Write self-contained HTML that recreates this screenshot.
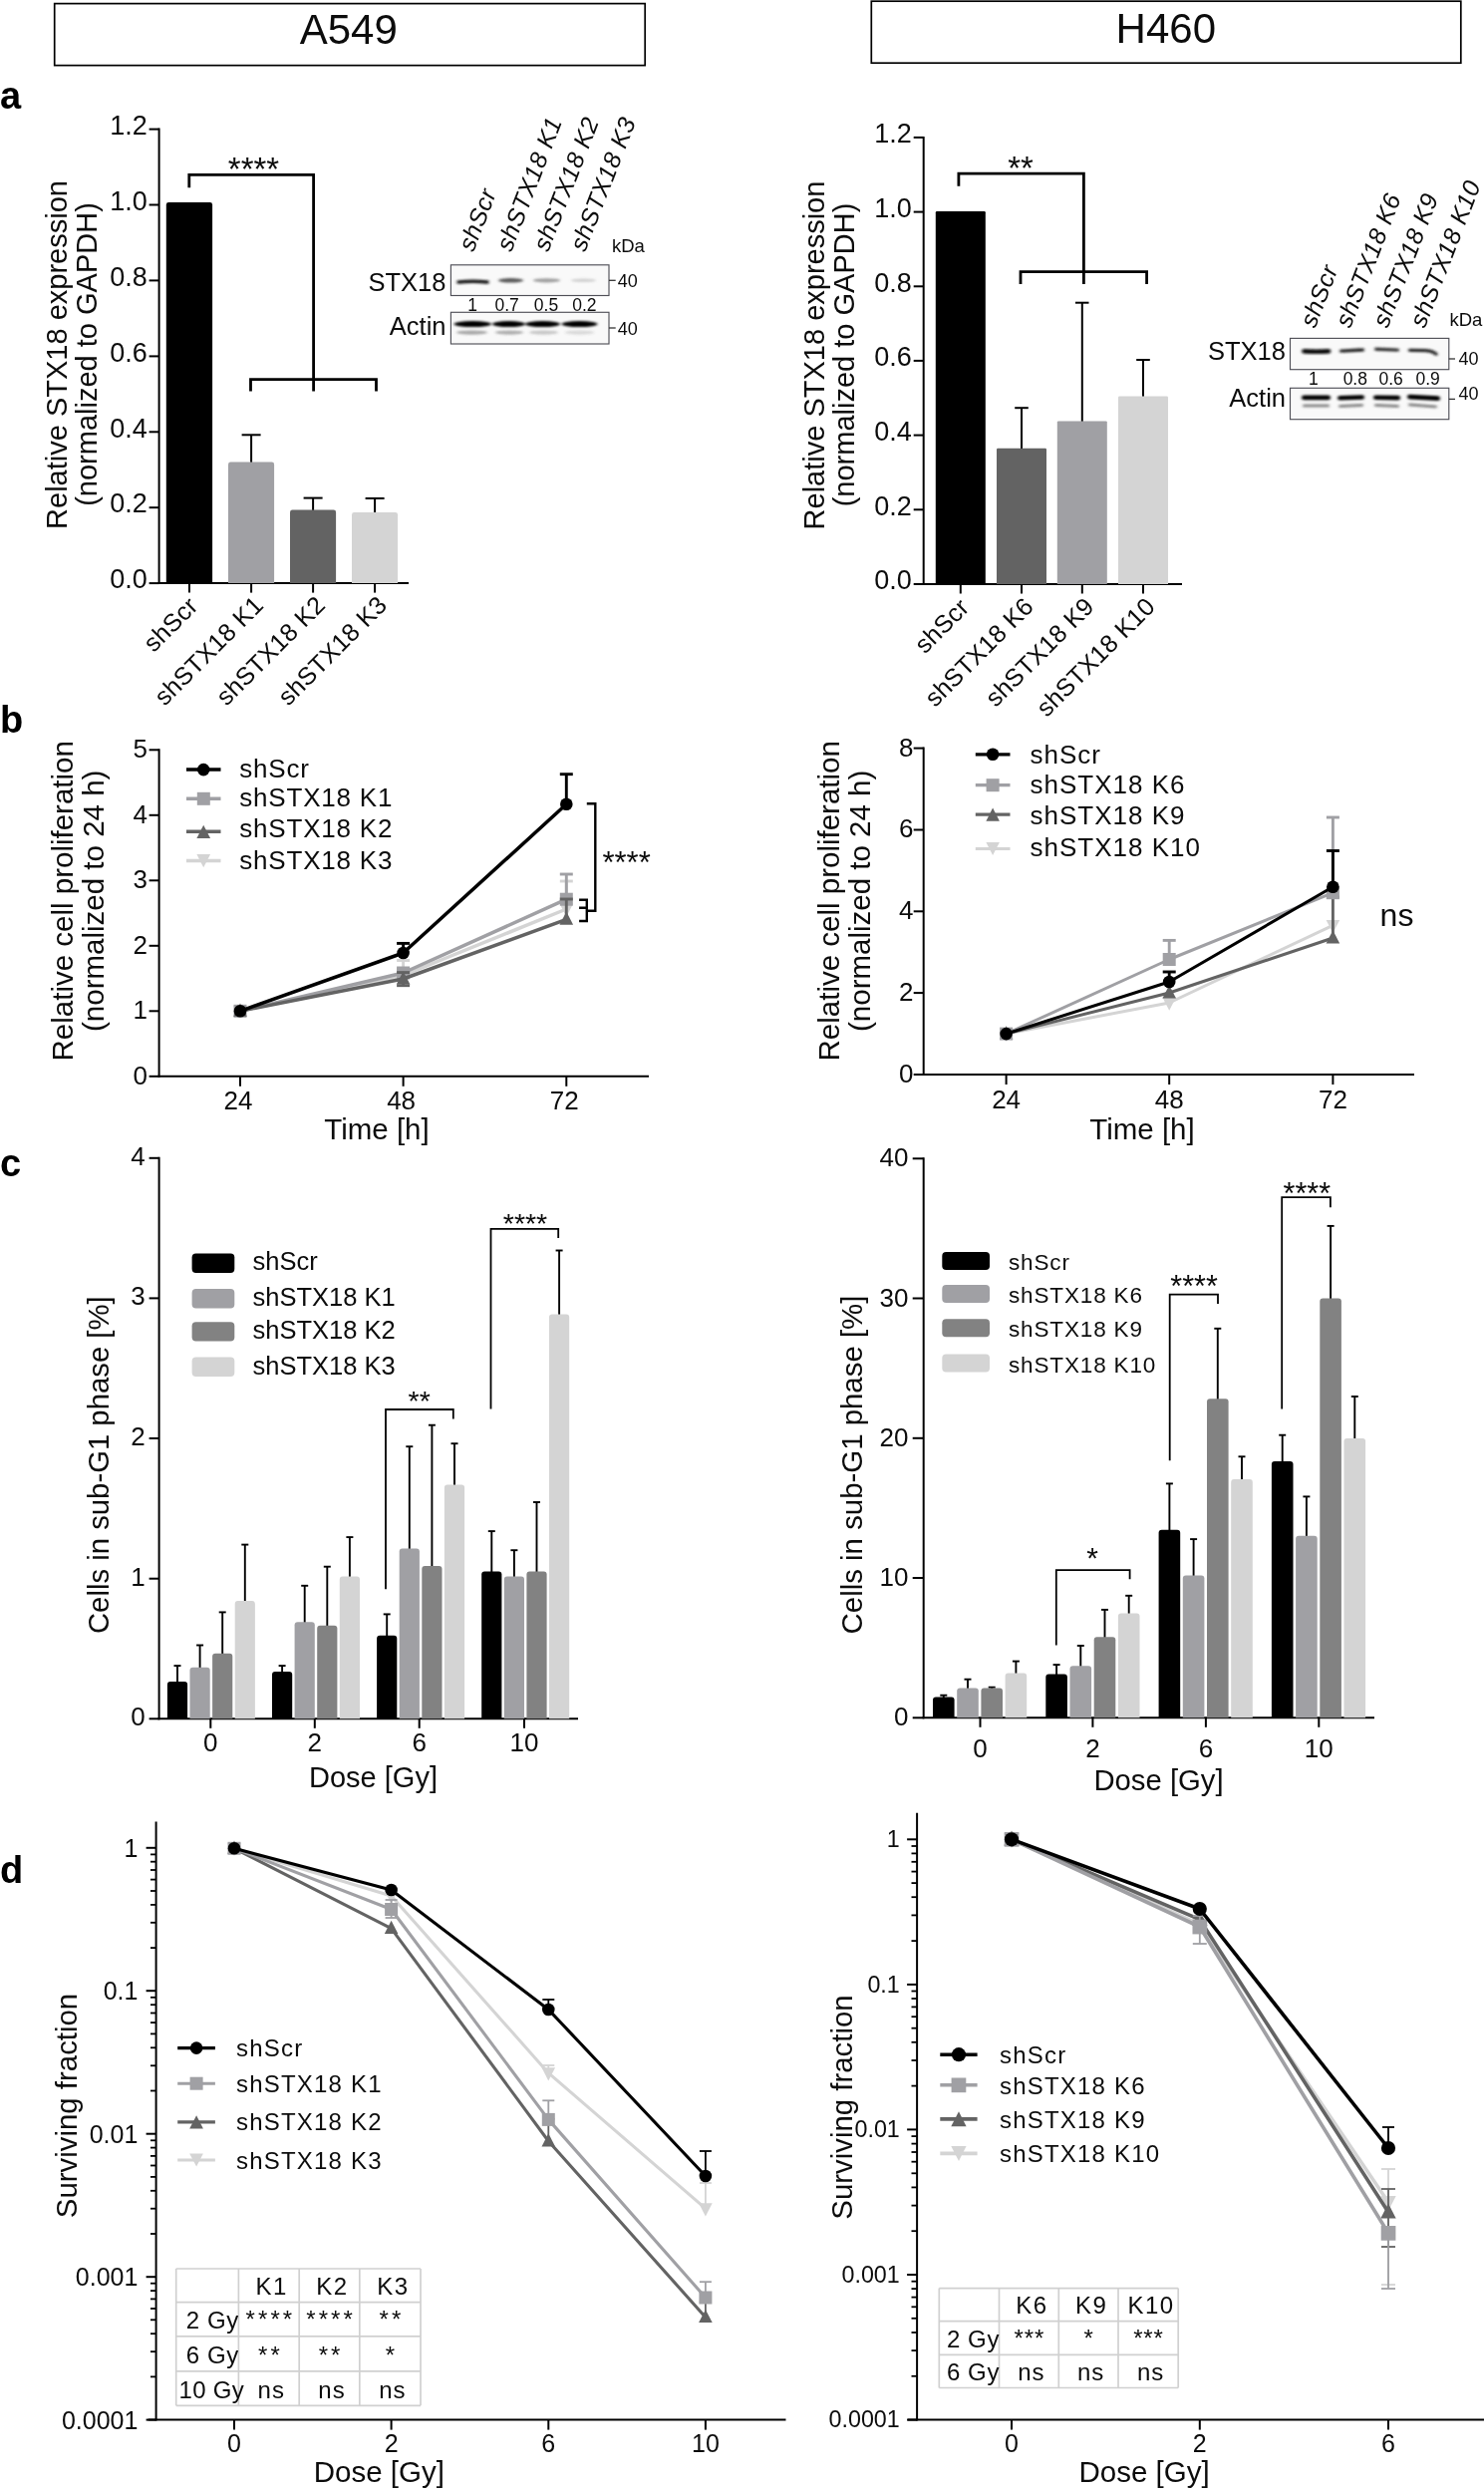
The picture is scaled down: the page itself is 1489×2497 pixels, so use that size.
<!DOCTYPE html>
<html><head><meta charset="utf-8"><title>Figure</title>
<style>
html,body{margin:0;padding:0;background:#fff;}
svg{display:block;will-change:transform;font-family:"Liberation Sans",sans-serif;fill:#0c0c0c;}
</style></head><body>
<svg width="1489" height="2497" viewBox="0 0 1489 2497">
<defs>
<filter id="b1" x="-10%" y="-60%" width="120%" height="220%"><feGaussianBlur stdDeviation="1.5 1.0"/></filter>
<filter id="b2" x="-20%" y="-100%" width="140%" height="300%"><feGaussianBlur stdDeviation="1.2 0.8"/></filter>
</defs>
<rect width="1489" height="2497" fill="#fff"/>
<rect x="54.7" y="3.6" width="592.5" height="62.0" fill="#fff" stroke="#000" stroke-width="1.7"/>
<text x="349.8" y="44.3" font-size="42" text-anchor="middle">A549</text>
<rect x="874.3" y="1.2" width="591.5" height="62.0" fill="#fff" stroke="#000" stroke-width="1.7"/>
<text x="1169.8" y="42.7" font-size="42" text-anchor="middle">H460</text>
<text x="0.0" y="109.3" font-size="38" font-weight="bold" fill="#000">a</text>
<text x="0.0" y="734.5" font-size="38" font-weight="bold" fill="#000">b</text>
<text x="0.0" y="1180.0" font-size="38" font-weight="bold" fill="#000">c</text>
<text x="0.0" y="1888.5" font-size="38" font-weight="bold" fill="#000">d</text>
<line x1="159.6" y1="128.6" x2="159.6" y2="586.1" stroke="#000" stroke-width="2.0"/>
<line x1="149.6" y1="129.6" x2="159.6" y2="129.6" stroke="#000" stroke-width="2"/>
<text x="147.8" y="134.8" font-size="27" text-anchor="end">1.2</text>
<line x1="149.6" y1="205.5" x2="159.6" y2="205.5" stroke="#000" stroke-width="2"/>
<text x="147.8" y="210.7" font-size="27" text-anchor="end">1.0</text>
<line x1="149.6" y1="281.4" x2="159.6" y2="281.4" stroke="#000" stroke-width="2"/>
<text x="147.8" y="286.6" font-size="27" text-anchor="end">0.8</text>
<line x1="149.6" y1="357.4" x2="159.6" y2="357.4" stroke="#000" stroke-width="2"/>
<text x="147.8" y="362.6" font-size="27" text-anchor="end">0.6</text>
<line x1="149.6" y1="433.3" x2="159.6" y2="433.3" stroke="#000" stroke-width="2"/>
<text x="147.8" y="438.5" font-size="27" text-anchor="end">0.4</text>
<line x1="149.6" y1="509.2" x2="159.6" y2="509.2" stroke="#000" stroke-width="2"/>
<text x="147.8" y="514.4" font-size="27" text-anchor="end">0.2</text>
<line x1="149.6" y1="585.1" x2="159.6" y2="585.1" stroke="#000" stroke-width="2"/>
<text x="147.8" y="590.3" font-size="27" text-anchor="end">0.0</text>
<line x1="158.6" y1="585.1" x2="410.0" y2="585.1" stroke="#000" stroke-width="2.0"/>
<text x="66.5" y="356.0" font-size="29" text-anchor="middle" transform="rotate(-90 66.5 356.0)">Relative STX18 expression</text>
<text x="96.7" y="355.5" font-size="29" text-anchor="middle" transform="rotate(-90 96.7 355.5)">(normalized to GAPDH)</text>
<path d="M166.8 585.1V205.4Q166.8 203.0 169.2 203.0H210.7Q213.1 203.0 213.1 205.4V585.1Z" fill="#000"/>
<line x1="252.1" y1="465.5" x2="252.1" y2="436.3" stroke="#000" stroke-width="2"/>
<line x1="242.6" y1="436.3" x2="261.6" y2="436.3" stroke="#000" stroke-width="2"/>
<path d="M229.0 585.1V465.9Q229.0 463.5 231.4 463.5H272.7Q275.1 463.5 275.1 465.9V585.1Z" fill="#a0a0a4"/>
<line x1="314.1" y1="513.6" x2="314.1" y2="499.6" stroke="#000" stroke-width="2"/>
<line x1="304.6" y1="499.6" x2="323.6" y2="499.6" stroke="#000" stroke-width="2"/>
<path d="M291.0 585.1V514.0Q291.0 511.6 293.4 511.6H334.7Q337.1 511.6 337.1 514.0V585.1Z" fill="#636363"/>
<line x1="376.1" y1="516.0" x2="376.1" y2="500.0" stroke="#000" stroke-width="2"/>
<line x1="366.6" y1="500.0" x2="385.6" y2="500.0" stroke="#000" stroke-width="2"/>
<path d="M353.0 585.1V516.4Q353.0 514.0 355.4 514.0H396.7Q399.1 514.0 399.1 516.4V585.1Z" fill="#d4d4d4"/>
<line x1="190.0" y1="585.1" x2="190.0" y2="594.6" stroke="#000" stroke-width="2"/>
<text x="200.0" y="609.6" font-size="25" text-anchor="end" transform="rotate(-45 200.0 609.6)" letter-spacing="0.15">shScr</text>
<line x1="252.1" y1="585.1" x2="252.1" y2="594.6" stroke="#000" stroke-width="2"/>
<text x="265.6" y="608.6" font-size="25" text-anchor="end" transform="rotate(-45 265.6 608.6)" letter-spacing="0.15">shSTX18 K1</text>
<line x1="314.1" y1="585.1" x2="314.1" y2="594.6" stroke="#000" stroke-width="2"/>
<text x="327.6" y="608.6" font-size="25" text-anchor="end" transform="rotate(-45 327.6 608.6)" letter-spacing="0.15">shSTX18 K2</text>
<line x1="376.1" y1="585.1" x2="376.1" y2="594.6" stroke="#000" stroke-width="2"/>
<text x="389.6" y="608.6" font-size="25" text-anchor="end" transform="rotate(-45 389.6 608.6)" letter-spacing="0.15">shSTX18 K3</text>
<path d="M189.8 188.3V175.3H314.6V392.5" fill="none" stroke="#000" stroke-width="2.8" stroke-linejoin="miter"/>
<path d="M251.5 392.5V380.6H377.5V392.5" fill="none" stroke="#000" stroke-width="2.8" stroke-linejoin="miter"/>
<text x="254.5" y="180.5" font-size="33" text-anchor="middle">****</text>
<line x1="926.7" y1="136.9" x2="926.7" y2="587.0" stroke="#000" stroke-width="2.0"/>
<line x1="916.7" y1="137.9" x2="926.7" y2="137.9" stroke="#000" stroke-width="2"/>
<text x="914.9" y="143.1" font-size="27" text-anchor="end">1.2</text>
<line x1="916.7" y1="212.6" x2="926.7" y2="212.6" stroke="#000" stroke-width="2"/>
<text x="914.9" y="217.8" font-size="27" text-anchor="end">1.0</text>
<line x1="916.7" y1="287.3" x2="926.7" y2="287.3" stroke="#000" stroke-width="2"/>
<text x="914.9" y="292.5" font-size="27" text-anchor="end">0.8</text>
<line x1="916.7" y1="361.9" x2="926.7" y2="361.9" stroke="#000" stroke-width="2"/>
<text x="914.9" y="367.1" font-size="27" text-anchor="end">0.6</text>
<line x1="916.7" y1="436.6" x2="926.7" y2="436.6" stroke="#000" stroke-width="2"/>
<text x="914.9" y="441.8" font-size="27" text-anchor="end">0.4</text>
<line x1="916.7" y1="511.3" x2="926.7" y2="511.3" stroke="#000" stroke-width="2"/>
<text x="914.9" y="516.5" font-size="27" text-anchor="end">0.2</text>
<line x1="916.7" y1="586.0" x2="926.7" y2="586.0" stroke="#000" stroke-width="2"/>
<text x="914.9" y="591.2" font-size="27" text-anchor="end">0.0</text>
<line x1="925.7" y1="586.0" x2="1186.0" y2="586.0" stroke="#000" stroke-width="2.0"/>
<text x="826.5" y="356.5" font-size="29" text-anchor="middle" transform="rotate(-90 826.5 356.5)">Relative STX18 expression</text>
<text x="856.5" y="356.0" font-size="29" text-anchor="middle" transform="rotate(-90 856.5 356.0)">(normalized to GAPDH)</text>
<path d="M938.8 586.0V213.2Q938.8 212.0 940.0 212.0H987.6Q988.8 212.0 988.8 213.2V586.0Z" fill="#000"/>
<line x1="1025.0" y1="451.7" x2="1025.0" y2="409.2" stroke="#000" stroke-width="2"/>
<line x1="1018.2" y1="409.2" x2="1031.8" y2="409.2" stroke="#000" stroke-width="2"/>
<path d="M1000.0 586.0V450.9Q1000.0 449.7 1001.2 449.7H1048.8Q1050.0 449.7 1050.0 450.9V586.0Z" fill="#636363"/>
<line x1="1085.8" y1="424.4" x2="1085.8" y2="303.7" stroke="#000" stroke-width="2"/>
<line x1="1079.0" y1="303.7" x2="1092.5" y2="303.7" stroke="#000" stroke-width="2"/>
<path d="M1060.8 586.0V423.6Q1060.8 422.4 1062.0 422.4H1109.6Q1110.8 422.4 1110.8 423.6V586.0Z" fill="#a0a0a4"/>
<line x1="1147.0" y1="399.5" x2="1147.0" y2="361.0" stroke="#000" stroke-width="2"/>
<line x1="1140.2" y1="361.0" x2="1153.8" y2="361.0" stroke="#000" stroke-width="2"/>
<path d="M1122.0 586.0V398.7Q1122.0 397.5 1123.2 397.5H1170.8Q1172.0 397.5 1172.0 398.7V586.0Z" fill="#d4d4d4"/>
<line x1="963.8" y1="586.0" x2="963.8" y2="595.5" stroke="#000" stroke-width="2"/>
<text x="973.8" y="611.0" font-size="25" text-anchor="end" transform="rotate(-45 973.8 611.0)" letter-spacing="0.15">shScr</text>
<line x1="1025.0" y1="586.0" x2="1025.0" y2="595.5" stroke="#000" stroke-width="2"/>
<text x="1038.5" y="610.0" font-size="25" text-anchor="end" transform="rotate(-45 1038.5 610.0)" letter-spacing="0.15">shSTX18 K6</text>
<line x1="1085.8" y1="586.0" x2="1085.8" y2="595.5" stroke="#000" stroke-width="2"/>
<text x="1099.3" y="610.0" font-size="25" text-anchor="end" transform="rotate(-45 1099.3 610.0)" letter-spacing="0.15">shSTX18 K9</text>
<line x1="1147.0" y1="586.0" x2="1147.0" y2="595.5" stroke="#000" stroke-width="2"/>
<text x="1160.5" y="610.0" font-size="25" text-anchor="end" transform="rotate(-45 1160.5 610.0)" letter-spacing="0.15">shSTX18 K10</text>
<path d="M961.9 186.7V174.2H1087.4V285" fill="none" stroke="#000" stroke-width="2.8" stroke-linejoin="miter"/>
<path d="M1024 285V272.6H1150.6V285" fill="none" stroke="#000" stroke-width="2.8" stroke-linejoin="miter"/>
<text x="1024.0" y="179.5" font-size="33" text-anchor="middle">**</text>
<clipPath id="cA1"><rect x="452.4" y="265.8" width="158.6" height="30.7"/></clipPath>
<rect x="452.4" y="265.8" width="158.6" height="30.7" fill="#f9f9f9" stroke="#505058" stroke-width="1.15"/>
<g clip-path="url(#cA1)"><g filter="url(#b1)">
<path d="M460.0 283.0Q474.5 281.4 489.0 283.0" fill="none" stroke="#151515" stroke-width="3.4" stroke-linecap="round" opacity="1"/>
<ellipse cx="512.5" cy="281.3" rx="12.5" ry="2.30" fill="#333" opacity="0.8"/>
<ellipse cx="548.5" cy="281.3" rx="13.5" ry="2.10" fill="#555" opacity="0.55"/>
<ellipse cx="585.5" cy="281.3" rx="12.5" ry="1.80" fill="#777" opacity="0.3"/>
</g></g>
<clipPath id="cA2"><rect x="452.4" y="313.3" width="158.6" height="31.7"/></clipPath>
<rect x="452.4" y="313.3" width="158.6" height="31.7" fill="#f9f9f9" stroke="#505058" stroke-width="1.15"/>
<g clip-path="url(#cA2)"><g filter="url(#b1)">
<ellipse cx="474.2" cy="325.1" rx="18.8" ry="3.00" fill="#050505" opacity="1"/>
<ellipse cx="510.5" cy="325.1" rx="16.5" ry="3.00" fill="#050505" opacity="1"/>
<ellipse cx="544.5" cy="325.1" rx="17.5" ry="3.00" fill="#050505" opacity="1"/>
<ellipse cx="581.5" cy="325.1" rx="18.0" ry="3.00" fill="#050505" opacity="1"/>
<ellipse cx="473.5" cy="333.6" rx="15.5" ry="2.10" fill="#555" opacity="0.5"/>
<ellipse cx="511.0" cy="333.6" rx="14.0" ry="2.10" fill="#555" opacity="0.45"/>
<ellipse cx="545.5" cy="333.6" rx="14.5" ry="2.10" fill="#555" opacity="0.3"/>
<ellipse cx="581.5" cy="333.6" rx="14.5" ry="2.10" fill="#555" opacity="0.2"/>
</g></g>
<text x="447.5" y="291.6" font-size="25.5" text-anchor="end">STX18</text>
<text x="447.5" y="335.5" font-size="25.5" text-anchor="end">Actin</text>
<text x="474.2" y="311.6" font-size="17.5" text-anchor="middle">1</text>
<text x="508.6" y="311.6" font-size="17.5" text-anchor="middle">0.7</text>
<text x="548.0" y="311.6" font-size="17.5" text-anchor="middle">0.5</text>
<text x="586.4" y="311.6" font-size="17.5" text-anchor="middle">0.2</text>
<text x="614.0" y="252.6" font-size="18.5">kDa</text>
<line x1="611.0" y1="281.3" x2="617.7" y2="281.3" stroke="#333" stroke-width="1.3"/>
<text x="619.8" y="288.3" font-size="18">40</text>
<line x1="611.0" y1="329.0" x2="617.7" y2="329.0" stroke="#333" stroke-width="1.3"/>
<text x="619.8" y="336.0" font-size="18">40</text>
<text x="475.0" y="253.5" font-size="24.5" transform="rotate(-68.7 475.0 253.5)" letter-spacing="0.4" font-style="italic">shScr</text>
<text x="513.0" y="253.5" font-size="24.5" transform="rotate(-68.7 513.0 253.5)" letter-spacing="0.4" font-style="italic">shSTX18 K1</text>
<text x="550.0" y="253.5" font-size="24.5" transform="rotate(-68.7 550.0 253.5)" letter-spacing="0.4" font-style="italic">shSTX18 K2</text>
<text x="587.0" y="253.5" font-size="24.5" transform="rotate(-68.7 587.0 253.5)" letter-spacing="0.4" font-style="italic">shSTX18 K3</text>
<clipPath id="cH1"><rect x="1294.5" y="339.4" width="159.3" height="31.3"/></clipPath>
<rect x="1294.5" y="339.4" width="159.3" height="31.3" fill="#f9f9f9" stroke="#505058" stroke-width="1.15"/>
<g clip-path="url(#cH1)"><g filter="url(#b1)">
<path d="M1308.5 352.4Q1320.8 353.2 1333.0 352.4" fill="none" stroke="#0a0a0a" stroke-width="4.6" stroke-linecap="round" opacity="1"/>
<rect x="1344.0" y="349.9" width="25.0" height="3.4" rx="1.7" fill="#1a1a1a" opacity="0.95" transform="rotate(-3 1356.5 351.6)"/>
<rect x="1379.0" y="349.0" width="25.0" height="3.4" rx="1.7" fill="#222" opacity="0.9" transform="rotate(2 1391.5 350.7)"/>
<path d="M1414.5 351.3L1431 351.6Q1437.5 352.2 1441 355.2" fill="none" stroke="#1a1a1a" stroke-width="3.3" stroke-linecap="round" opacity="0.95"/>
</g></g>
<clipPath id="cH2"><rect x="1294.5" y="389.3" width="159.3" height="31.4"/></clipPath>
<rect x="1294.5" y="389.3" width="159.3" height="31.4" fill="#f9f9f9" stroke="#505058" stroke-width="1.15"/>
<g clip-path="url(#cH2)"><g filter="url(#b1)">
<rect x="1306.0" y="396.6" width="29.0" height="4.6" rx="2.3" fill="#050505" opacity="1"/>
<rect x="1342.0" y="396.6" width="27.0" height="4.6" rx="2.3" fill="#050505" opacity="1" transform="rotate(-2 1355.5 398.9)"/>
<rect x="1378.0" y="396.6" width="27.0" height="4.6" rx="2.3" fill="#050505" opacity="1" transform="rotate(1 1391.5 398.9)"/>
<rect x="1412.0" y="396.6" width="33.0" height="4.6" rx="2.3" fill="#050505" opacity="1" transform="rotate(3 1428.5 398.9)"/>
<rect x="1307.0" y="405.5" width="27.0" height="3.0" rx="1.5" fill="#444" opacity="0.62"/>
<rect x="1343.0" y="405.5" width="25.0" height="3.0" rx="1.5" fill="#444" opacity="0.62" transform="rotate(-2 1355.5 407.0)"/>
<rect x="1379.0" y="405.5" width="25.0" height="3.0" rx="1.5" fill="#444" opacity="0.62" transform="rotate(2 1391.5 407.0)"/>
<rect x="1413.0" y="405.5" width="29.0" height="3.0" rx="1.5" fill="#444" opacity="0.62" transform="rotate(4 1427.5 407.0)"/>
</g></g>
<text x="1290.0" y="361.0" font-size="25.5" text-anchor="end">STX18</text>
<text x="1290.0" y="407.5" font-size="25.5" text-anchor="end">Actin</text>
<text x="1317.8" y="385.9" font-size="17.5" text-anchor="middle">1</text>
<text x="1359.8" y="385.9" font-size="17.5" text-anchor="middle">0.8</text>
<text x="1395.6" y="385.9" font-size="17.5" text-anchor="middle">0.6</text>
<text x="1432.6" y="385.9" font-size="17.5" text-anchor="middle">0.9</text>
<text x="1454.5" y="326.7" font-size="18.5">kDa</text>
<line x1="1453.8" y1="360.0" x2="1460.0" y2="360.0" stroke="#333" stroke-width="1.3"/>
<text x="1463.5" y="366.0" font-size="18">40</text>
<line x1="1453.8" y1="400.4" x2="1460.0" y2="400.4" stroke="#333" stroke-width="1.3"/>
<text x="1463.5" y="401.0" font-size="18">40</text>
<text x="1319.4" y="330.0" font-size="24.5" transform="rotate(-68.7 1319.4 330.0)" letter-spacing="0.4" font-style="italic">shScr</text>
<text x="1354.8" y="330.0" font-size="24.5" transform="rotate(-68.7 1354.8 330.0)" letter-spacing="0.4" font-style="italic">shSTX18 K6</text>
<text x="1392.2" y="330.0" font-size="24.5" transform="rotate(-68.7 1392.2 330.0)" letter-spacing="0.4" font-style="italic">shSTX18 K9</text>
<text x="1429.6" y="330.0" font-size="24.5" transform="rotate(-68.7 1429.6 330.0)" letter-spacing="0.4" font-style="italic">shSTX18 K10</text>
<line x1="159.6" y1="751.3" x2="159.6" y2="1080.8" stroke="#000" stroke-width="2.0"/>
<line x1="149.6" y1="752.3" x2="159.6" y2="752.3" stroke="#000" stroke-width="2"/>
<text x="148.0" y="760.0" font-size="26" text-anchor="end">5</text>
<line x1="149.6" y1="817.8" x2="159.6" y2="817.8" stroke="#000" stroke-width="2"/>
<text x="148.0" y="825.5" font-size="26" text-anchor="end">4</text>
<line x1="149.6" y1="883.3" x2="159.6" y2="883.3" stroke="#000" stroke-width="2"/>
<text x="148.0" y="891.0" font-size="26" text-anchor="end">3</text>
<line x1="149.6" y1="948.8" x2="159.6" y2="948.8" stroke="#000" stroke-width="2"/>
<text x="148.0" y="956.5" font-size="26" text-anchor="end">2</text>
<line x1="149.6" y1="1014.3" x2="159.6" y2="1014.3" stroke="#000" stroke-width="2"/>
<text x="148.0" y="1022.0" font-size="26" text-anchor="end">1</text>
<line x1="149.6" y1="1079.8" x2="159.6" y2="1079.8" stroke="#000" stroke-width="2"/>
<text x="148.0" y="1087.5" font-size="26" text-anchor="end">0</text>
<line x1="158.6" y1="1079.8" x2="651.0" y2="1079.8" stroke="#000" stroke-width="2.0"/>
<line x1="241.0" y1="1079.8" x2="241.0" y2="1089.8" stroke="#000" stroke-width="2"/>
<text x="239.0" y="1112.8" font-size="26" text-anchor="middle">24</text>
<line x1="404.6" y1="1079.8" x2="404.6" y2="1089.8" stroke="#000" stroke-width="2"/>
<text x="402.6" y="1112.8" font-size="26" text-anchor="middle">48</text>
<line x1="568.3" y1="1079.8" x2="568.3" y2="1089.8" stroke="#000" stroke-width="2"/>
<text x="566.3" y="1112.8" font-size="26" text-anchor="middle">72</text>
<text x="378.0" y="1142.5" font-size="29.5" text-anchor="middle">Time [h]</text>
<text x="73.0" y="903.8" font-size="29.5" text-anchor="middle" transform="rotate(-90 73.0 903.8)">Relative cell proliferation</text>
<text x="104.0" y="903.8" font-size="29.5" text-anchor="middle" transform="rotate(-90 104.0 903.8)">(normalized to 24 h)</text>
<path d="M241.0 1014.3L404.6 978.5L568.3 912.0" fill="none" stroke="#d4d4d4" stroke-width="3.5" stroke-linejoin="round" stroke-linecap="round"/>
<line x1="404.6" y1="978.5" x2="404.6" y2="963.5" stroke="#d4d4d4" stroke-width="2.9"/>
<line x1="398.1" y1="963.5" x2="411.1" y2="963.5" stroke="#d4d4d4" stroke-width="2.9"/>
<line x1="568.3" y1="912.0" x2="568.3" y2="884.0" stroke="#d4d4d4" stroke-width="2.9"/>
<line x1="561.8" y1="884.0" x2="574.8" y2="884.0" stroke="#d4d4d4" stroke-width="2.9"/>
<path d="M241.0 1022.1L247.8 1008.9H234.2Z" fill="#d4d4d4"/>
<path d="M404.6 986.3L411.4 973.1H397.8Z" fill="#d4d4d4"/>
<path d="M568.3 919.8L575.1 906.6H561.5Z" fill="#d4d4d4"/>
<path d="M241.0 1014.3L404.6 976.0L568.3 902.2" fill="none" stroke="#a0a0a4" stroke-width="3.5" stroke-linejoin="round" stroke-linecap="round"/>
<line x1="404.6" y1="976.0" x2="404.6" y2="972.0" stroke="#a0a0a4" stroke-width="2.9"/>
<line x1="398.1" y1="972.0" x2="411.1" y2="972.0" stroke="#a0a0a4" stroke-width="2.9"/>
<line x1="568.3" y1="902.2" x2="568.3" y2="877.0" stroke="#a0a0a4" stroke-width="2.9"/>
<line x1="561.8" y1="877.0" x2="574.8" y2="877.0" stroke="#a0a0a4" stroke-width="2.9"/>
<rect x="234.5" y="1007.8" width="13.0" height="13.0" fill="#a0a0a4"/>
<rect x="398.1" y="969.5" width="13.0" height="13.0" fill="#a0a0a4"/>
<rect x="561.8" y="895.7" width="13.0" height="13.0" fill="#a0a0a4"/>
<path d="M241.0 1014.3L404.6 982.0L568.3 922.3" fill="none" stroke="#636363" stroke-width="3.5" stroke-linejoin="round" stroke-linecap="round"/>
<line x1="404.6" y1="975.6" x2="404.6" y2="988.7" stroke="#636363" stroke-width="2.9"/>
<line x1="398.1" y1="975.6" x2="411.1" y2="975.6" stroke="#636363" stroke-width="2.9"/>
<line x1="398.1" y1="988.7" x2="411.1" y2="988.7" stroke="#636363" stroke-width="2.9"/>
<line x1="568.3" y1="922.3" x2="568.3" y2="902.0" stroke="#636363" stroke-width="2.9"/>
<line x1="561.8" y1="902.0" x2="574.8" y2="902.0" stroke="#636363" stroke-width="2.9"/>
<path d="M241.0 1006.5L247.8 1019.7H234.2Z" fill="#636363"/>
<path d="M404.6 974.2L411.4 987.4H397.8Z" fill="#636363"/>
<path d="M568.3 914.5L575.1 927.7H561.5Z" fill="#636363"/>
<path d="M241.0 1014.3L404.6 956.0L568.3 806.8" fill="none" stroke="#000" stroke-width="3.5" stroke-linejoin="round" stroke-linecap="round"/>
<line x1="404.6" y1="956.0" x2="404.6" y2="946.4" stroke="#000" stroke-width="2.9"/>
<line x1="398.1" y1="946.4" x2="411.1" y2="946.4" stroke="#000" stroke-width="2.9"/>
<line x1="568.3" y1="806.8" x2="568.3" y2="776.7" stroke="#000" stroke-width="2.9"/>
<line x1="561.8" y1="776.7" x2="574.8" y2="776.7" stroke="#000" stroke-width="2.9"/>
<circle cx="241.0" cy="1014.3" r="6.3" fill="#000"/>
<circle cx="404.6" cy="956.0" r="6.3" fill="#000"/>
<circle cx="568.3" cy="806.8" r="6.3" fill="#000"/>
<line x1="187.0" y1="772.1" x2="221.5" y2="772.1" stroke="#000" stroke-width="3.5"/>
<circle cx="204.2" cy="772.1" r="6.3" fill="#000"/>
<text x="240.3" y="779.8" font-size="26" letter-spacing="0.8">shScr</text>
<line x1="187.0" y1="801.3" x2="221.5" y2="801.3" stroke="#a0a0a4" stroke-width="3.5"/>
<rect x="197.8" y="794.8" width="13.0" height="13.0" fill="#a0a0a4"/>
<text x="240.3" y="808.9" font-size="26" letter-spacing="0.8">shSTX18 K1</text>
<line x1="187.0" y1="834.3" x2="221.5" y2="834.3" stroke="#636363" stroke-width="3.5"/>
<path d="M204.2 827.7L211.1 840.9H197.4Z" fill="#636363"/>
<text x="240.3" y="840.2" font-size="26" letter-spacing="0.8">shSTX18 K2</text>
<line x1="187.0" y1="863.6" x2="221.5" y2="863.6" stroke="#d4d4d4" stroke-width="3.5"/>
<path d="M204.2 870.2L211.1 857.0H197.4Z" fill="#d4d4d4"/>
<text x="240.3" y="871.7" font-size="26" letter-spacing="0.8">shSTX18 K3</text>
<path d="M588.8 806.3H597.3V913.8H588.8" fill="none" stroke="#000" stroke-width="2.4" stroke-linejoin="miter"/>
<path d="M581.1 902.7H588.8V924H581.1M581.1 910.8H588.8" fill="none" stroke="#000" stroke-width="2.4" stroke-linejoin="miter"/>
<text x="628.6" y="876.0" font-size="31" text-anchor="middle">****</text>
<line x1="926.7" y1="749.6" x2="926.7" y2="1079.0" stroke="#000" stroke-width="2.0"/>
<line x1="916.7" y1="750.6" x2="926.7" y2="750.6" stroke="#000" stroke-width="2"/>
<text x="916.5" y="758.5" font-size="26" text-anchor="end">8</text>
<line x1="916.7" y1="832.5" x2="926.7" y2="832.5" stroke="#000" stroke-width="2"/>
<text x="916.5" y="840.4" font-size="26" text-anchor="end">6</text>
<line x1="916.7" y1="914.3" x2="926.7" y2="914.3" stroke="#000" stroke-width="2"/>
<text x="916.5" y="922.2" font-size="26" text-anchor="end">4</text>
<line x1="916.7" y1="996.1" x2="926.7" y2="996.1" stroke="#000" stroke-width="2"/>
<text x="916.5" y="1004.0" font-size="26" text-anchor="end">2</text>
<line x1="916.7" y1="1078.0" x2="926.7" y2="1078.0" stroke="#000" stroke-width="2"/>
<text x="916.5" y="1085.9" font-size="26" text-anchor="end">0</text>
<line x1="925.7" y1="1078.0" x2="1419.0" y2="1078.0" stroke="#000" stroke-width="2.0"/>
<line x1="1009.6" y1="1078.0" x2="1009.6" y2="1088.0" stroke="#000" stroke-width="2"/>
<text x="1009.6" y="1112.0" font-size="26" text-anchor="middle">24</text>
<line x1="1173.2" y1="1078.0" x2="1173.2" y2="1088.0" stroke="#000" stroke-width="2"/>
<text x="1173.2" y="1112.0" font-size="26" text-anchor="middle">48</text>
<line x1="1337.4" y1="1078.0" x2="1337.4" y2="1088.0" stroke="#000" stroke-width="2"/>
<text x="1337.4" y="1112.0" font-size="26" text-anchor="middle">72</text>
<text x="1146.0" y="1142.5" font-size="29.5" text-anchor="middle">Time [h]</text>
<text x="841.8" y="903.8" font-size="29.5" text-anchor="middle" transform="rotate(-90 841.8 903.8)">Relative cell proliferation</text>
<text x="872.6" y="903.8" font-size="29.5" text-anchor="middle" transform="rotate(-90 872.6 903.8)">(normalized to 24 h)</text>
<path d="M1009.6 1037.1L1173.2 1006.0L1337.4 928.3" fill="none" stroke="#d4d4d4" stroke-width="3.0" stroke-linejoin="round" stroke-linecap="round"/>
<path d="M1009.6 1044.9L1016.4 1031.7H1002.8Z" fill="#d4d4d4"/>
<path d="M1173.2 1013.8L1180.0 1000.6H1166.4Z" fill="#d4d4d4"/>
<path d="M1337.4 936.1L1344.2 922.9H1330.6Z" fill="#d4d4d4"/>
<path d="M1009.6 1037.1L1173.2 996.0L1337.4 941.0" fill="none" stroke="#636363" stroke-width="3.0" stroke-linejoin="round" stroke-linecap="round"/>
<line x1="1337.4" y1="941.0" x2="1337.4" y2="900.0" stroke="#636363" stroke-width="2.9"/>
<line x1="1330.9" y1="900.0" x2="1343.9" y2="900.0" stroke="#636363" stroke-width="2.9"/>
<path d="M1009.6 1029.3L1016.4 1042.5H1002.8Z" fill="#636363"/>
<path d="M1173.2 988.2L1180.0 1001.4H1166.4Z" fill="#636363"/>
<path d="M1337.4 933.2L1344.2 946.4H1330.6Z" fill="#636363"/>
<path d="M1009.6 1037.1L1173.2 962.5L1337.4 895.7" fill="none" stroke="#a0a0a4" stroke-width="3.0" stroke-linejoin="round" stroke-linecap="round"/>
<line x1="1173.2" y1="962.5" x2="1173.2" y2="943.4" stroke="#a0a0a4" stroke-width="2.9"/>
<line x1="1166.7" y1="943.4" x2="1179.7" y2="943.4" stroke="#a0a0a4" stroke-width="2.9"/>
<line x1="1337.4" y1="895.7" x2="1337.4" y2="820.0" stroke="#a0a0a4" stroke-width="2.9"/>
<line x1="1330.9" y1="820.0" x2="1343.9" y2="820.0" stroke="#a0a0a4" stroke-width="2.9"/>
<rect x="1003.1" y="1030.6" width="13.0" height="13.0" fill="#a0a0a4"/>
<rect x="1166.7" y="956.0" width="13.0" height="13.0" fill="#a0a0a4"/>
<rect x="1330.9" y="889.2" width="13.0" height="13.0" fill="#a0a0a4"/>
<path d="M1009.6 1037.1L1173.2 985.0L1337.4 889.7" fill="none" stroke="#000" stroke-width="3.0" stroke-linejoin="round" stroke-linecap="round"/>
<line x1="1173.2" y1="985.0" x2="1173.2" y2="975.0" stroke="#000" stroke-width="2.9"/>
<line x1="1166.7" y1="975.0" x2="1179.7" y2="975.0" stroke="#000" stroke-width="2.9"/>
<line x1="1337.4" y1="889.7" x2="1337.4" y2="853.5" stroke="#000" stroke-width="2.9"/>
<line x1="1330.9" y1="853.5" x2="1343.9" y2="853.5" stroke="#000" stroke-width="2.9"/>
<circle cx="1009.6" cy="1037.1" r="6.3" fill="#000"/>
<circle cx="1173.2" cy="985.0" r="6.3" fill="#000"/>
<circle cx="1337.4" cy="889.7" r="6.3" fill="#000"/>
<line x1="978.8" y1="756.8" x2="1013.5" y2="756.8" stroke="#000" stroke-width="3.2"/>
<circle cx="996.1" cy="756.8" r="6.3" fill="#000"/>
<text x="1033.5" y="765.7" font-size="26" letter-spacing="1.0">shScr</text>
<line x1="978.8" y1="787.7" x2="1013.5" y2="787.7" stroke="#a0a0a4" stroke-width="3.2"/>
<rect x="989.6" y="781.2" width="13.0" height="13.0" fill="#a0a0a4"/>
<text x="1033.5" y="795.9" font-size="26" letter-spacing="1.0">shSTX18 K6</text>
<line x1="978.8" y1="817.2" x2="1013.5" y2="817.2" stroke="#636363" stroke-width="3.2"/>
<path d="M996.1 810.6L1002.9 823.8H989.4Z" fill="#636363"/>
<text x="1033.5" y="826.9" font-size="26" letter-spacing="1.0">shSTX18 K9</text>
<line x1="978.8" y1="851.5" x2="1013.5" y2="851.5" stroke="#d4d4d4" stroke-width="3.2"/>
<path d="M996.1 858.1L1002.9 844.9H989.4Z" fill="#d4d4d4"/>
<text x="1033.5" y="859.0" font-size="26" letter-spacing="1.0">shSTX18 K10</text>
<text x="1401.5" y="928.5" font-size="32" text-anchor="middle">ns</text>
<line x1="159.6" y1="1160.8" x2="159.6" y2="1725.3" stroke="#000" stroke-width="2.0"/>
<line x1="149.6" y1="1161.8" x2="159.6" y2="1161.8" stroke="#000" stroke-width="2"/>
<text x="145.8" y="1168.6" font-size="26" text-anchor="end">4</text>
<line x1="149.6" y1="1302.4" x2="159.6" y2="1302.4" stroke="#000" stroke-width="2"/>
<text x="145.8" y="1309.2" font-size="26" text-anchor="end">3</text>
<line x1="149.6" y1="1443.0" x2="159.6" y2="1443.0" stroke="#000" stroke-width="2"/>
<text x="145.8" y="1449.8" font-size="26" text-anchor="end">2</text>
<line x1="149.6" y1="1583.7" x2="159.6" y2="1583.7" stroke="#000" stroke-width="2"/>
<text x="145.8" y="1590.5" font-size="26" text-anchor="end">1</text>
<line x1="149.6" y1="1724.3" x2="159.6" y2="1724.3" stroke="#000" stroke-width="2"/>
<text x="145.8" y="1731.1" font-size="26" text-anchor="end">0</text>
<line x1="158.6" y1="1724.3" x2="580.0" y2="1724.3" stroke="#000" stroke-width="2.0"/>
<line x1="178.0" y1="1690.2" x2="178.0" y2="1671.1" stroke="#000" stroke-width="1.9"/>
<line x1="174.5" y1="1671.1" x2="181.5" y2="1671.1" stroke="#000" stroke-width="1.9"/>
<path d="M167.9 1724.3V1689.9Q167.9 1686.9 170.9 1686.9H185.1Q188.1 1686.9 188.1 1689.9V1724.3Z" fill="#000"/>
<line x1="200.6" y1="1676.1" x2="200.6" y2="1650.5" stroke="#000" stroke-width="1.9"/>
<line x1="197.1" y1="1650.5" x2="204.1" y2="1650.5" stroke="#000" stroke-width="1.9"/>
<path d="M190.5 1724.3V1675.8Q190.5 1672.8 193.5 1672.8H207.7Q210.7 1672.8 210.7 1675.8V1724.3Z" fill="#a0a0a4"/>
<line x1="223.2" y1="1662.1" x2="223.2" y2="1617.4" stroke="#000" stroke-width="1.9"/>
<line x1="219.7" y1="1617.4" x2="226.7" y2="1617.4" stroke="#000" stroke-width="1.9"/>
<path d="M213.1 1724.3V1661.8Q213.1 1658.8 216.1 1658.8H230.3Q233.3 1658.8 233.3 1661.8V1724.3Z" fill="#828282"/>
<line x1="245.8" y1="1609.4" x2="245.8" y2="1549.6" stroke="#000" stroke-width="1.9"/>
<line x1="242.3" y1="1549.6" x2="249.3" y2="1549.6" stroke="#000" stroke-width="1.9"/>
<path d="M235.7 1724.3V1609.1Q235.7 1606.1 238.7 1606.1H252.9Q255.9 1606.1 255.9 1609.1V1724.3Z" fill="#d4d4d4"/>
<line x1="283.1" y1="1680.2" x2="283.1" y2="1671.1" stroke="#000" stroke-width="1.9"/>
<line x1="279.6" y1="1671.1" x2="286.6" y2="1671.1" stroke="#000" stroke-width="1.9"/>
<path d="M273.0 1724.3V1679.9Q273.0 1676.9 276.0 1676.9H290.2Q293.2 1676.9 293.2 1679.9V1724.3Z" fill="#000"/>
<line x1="305.7" y1="1630.5" x2="305.7" y2="1590.8" stroke="#000" stroke-width="1.9"/>
<line x1="302.2" y1="1590.8" x2="309.2" y2="1590.8" stroke="#000" stroke-width="1.9"/>
<path d="M295.6 1724.3V1630.2Q295.6 1627.2 298.6 1627.2H312.8Q315.8 1627.2 315.8 1630.2V1724.3Z" fill="#a0a0a4"/>
<line x1="328.3" y1="1634.0" x2="328.3" y2="1571.7" stroke="#000" stroke-width="1.9"/>
<line x1="324.8" y1="1571.7" x2="331.8" y2="1571.7" stroke="#000" stroke-width="1.9"/>
<path d="M318.2 1724.3V1633.7Q318.2 1630.7 321.2 1630.7H335.4Q338.4 1630.7 338.4 1633.7V1724.3Z" fill="#828282"/>
<line x1="350.9" y1="1584.8" x2="350.9" y2="1542.1" stroke="#000" stroke-width="1.9"/>
<line x1="347.4" y1="1542.1" x2="354.4" y2="1542.1" stroke="#000" stroke-width="1.9"/>
<path d="M340.8 1724.3V1584.5Q340.8 1581.5 343.8 1581.5H358.0Q361.0 1581.5 361.0 1584.5V1724.3Z" fill="#d4d4d4"/>
<line x1="388.2" y1="1644.0" x2="388.2" y2="1619.4" stroke="#000" stroke-width="1.9"/>
<line x1="384.7" y1="1619.4" x2="391.7" y2="1619.4" stroke="#000" stroke-width="1.9"/>
<path d="M378.1 1724.3V1643.7Q378.1 1640.7 381.1 1640.7H395.3Q398.3 1640.7 398.3 1643.7V1724.3Z" fill="#000"/>
<line x1="410.8" y1="1556.7" x2="410.8" y2="1451.2" stroke="#000" stroke-width="1.9"/>
<line x1="407.3" y1="1451.2" x2="414.3" y2="1451.2" stroke="#000" stroke-width="1.9"/>
<path d="M400.7 1724.3V1556.4Q400.7 1553.4 403.7 1553.4H417.9Q420.9 1553.4 420.9 1556.4V1724.3Z" fill="#a0a0a4"/>
<line x1="433.4" y1="1574.2" x2="433.4" y2="1429.7" stroke="#000" stroke-width="1.9"/>
<line x1="429.9" y1="1429.7" x2="436.9" y2="1429.7" stroke="#000" stroke-width="1.9"/>
<path d="M423.3 1724.3V1573.9Q423.3 1570.9 426.3 1570.9H440.5Q443.5 1570.9 443.5 1573.9V1724.3Z" fill="#828282"/>
<line x1="456.0" y1="1492.9" x2="456.0" y2="1448.2" stroke="#000" stroke-width="1.9"/>
<line x1="452.5" y1="1448.2" x2="459.5" y2="1448.2" stroke="#000" stroke-width="1.9"/>
<path d="M445.9 1724.3V1492.6Q445.9 1489.6 448.9 1489.6H463.1Q466.1 1489.6 466.1 1492.6V1724.3Z" fill="#d4d4d4"/>
<line x1="493.3" y1="1579.8" x2="493.3" y2="1536.1" stroke="#000" stroke-width="1.9"/>
<line x1="489.8" y1="1536.1" x2="496.8" y2="1536.1" stroke="#000" stroke-width="1.9"/>
<path d="M483.2 1724.3V1579.5Q483.2 1576.5 486.2 1576.5H500.4Q503.4 1576.5 503.4 1579.5V1724.3Z" fill="#000"/>
<line x1="515.9" y1="1584.8" x2="515.9" y2="1555.2" stroke="#000" stroke-width="1.9"/>
<line x1="512.4" y1="1555.2" x2="519.4" y2="1555.2" stroke="#000" stroke-width="1.9"/>
<path d="M505.8 1724.3V1584.5Q505.8 1581.5 508.8 1581.5H523.0Q526.0 1581.5 526.0 1584.5V1724.3Z" fill="#a0a0a4"/>
<line x1="538.5" y1="1579.8" x2="538.5" y2="1507.0" stroke="#000" stroke-width="1.9"/>
<line x1="535.0" y1="1507.0" x2="542.0" y2="1507.0" stroke="#000" stroke-width="1.9"/>
<path d="M528.4 1724.3V1579.5Q528.4 1576.5 531.4 1576.5H545.6Q548.6 1576.5 548.6 1579.5V1724.3Z" fill="#828282"/>
<line x1="561.1" y1="1321.7" x2="561.1" y2="1254.5" stroke="#000" stroke-width="1.9"/>
<line x1="557.6" y1="1254.5" x2="564.6" y2="1254.5" stroke="#000" stroke-width="1.9"/>
<path d="M551.0 1724.3V1321.4Q551.0 1318.4 554.0 1318.4H568.2Q571.2 1318.4 571.2 1321.4V1724.3Z" fill="#d4d4d4"/>
<line x1="211.3" y1="1724.3" x2="211.3" y2="1733.8" stroke="#000" stroke-width="2"/>
<text x="211.3" y="1757.0" font-size="26" text-anchor="middle">0</text>
<line x1="315.8" y1="1724.3" x2="315.8" y2="1733.8" stroke="#000" stroke-width="2"/>
<text x="315.8" y="1757.0" font-size="26" text-anchor="middle">2</text>
<line x1="420.7" y1="1724.3" x2="420.7" y2="1733.8" stroke="#000" stroke-width="2"/>
<text x="420.7" y="1757.0" font-size="26" text-anchor="middle">6</text>
<line x1="526.0" y1="1724.3" x2="526.0" y2="1733.8" stroke="#000" stroke-width="2"/>
<text x="526.0" y="1757.0" font-size="26" text-anchor="middle">10</text>
<text x="374.5" y="1792.6" font-size="29" text-anchor="middle">Dose [Gy]</text>
<text x="109.5" y="1469.7" font-size="29.3" text-anchor="middle" transform="rotate(-90 109.5 1469.7)">Cells in sub-G1 phase [%]</text>
<rect x="192.6" y="1257.5" width="42.7" height="19.4" fill="#000" rx="4"/>
<text x="253.6" y="1274.0" font-size="25.5">shScr</text>
<rect x="192.6" y="1293.0" width="42.7" height="19.4" fill="#a0a0a4" rx="4"/>
<text x="253.6" y="1309.9" font-size="25.5">shSTX18 K1</text>
<rect x="192.6" y="1326.2" width="42.7" height="19.4" fill="#828282" rx="4"/>
<text x="253.6" y="1342.7" font-size="25.5">shSTX18 K2</text>
<rect x="192.6" y="1361.6" width="42.7" height="19.4" fill="#d4d4d4" rx="4"/>
<text x="253.6" y="1378.6" font-size="25.5">shSTX18 K3</text>
<path d="M387 1594.3V1414H454.8V1423.6" fill="none" stroke="#000" stroke-width="1.8" stroke-linejoin="miter"/>
<text x="420.7" y="1415.0" font-size="28.5" text-anchor="middle">**</text>
<path d="M492.5 1413.6V1232.9H560.2V1242" fill="none" stroke="#000" stroke-width="1.8" stroke-linejoin="miter"/>
<text x="527.0" y="1237.3" font-size="28.5" text-anchor="middle">****</text>
<line x1="926.7" y1="1161.3" x2="926.7" y2="1724.3" stroke="#000" stroke-width="2.0"/>
<line x1="915.7" y1="1162.3" x2="926.7" y2="1162.3" stroke="#000" stroke-width="2"/>
<text x="911.5" y="1170.3" font-size="26" text-anchor="end">40</text>
<line x1="915.7" y1="1302.5" x2="926.7" y2="1302.5" stroke="#000" stroke-width="2"/>
<text x="911.5" y="1310.5" font-size="26" text-anchor="end">30</text>
<line x1="915.7" y1="1442.8" x2="926.7" y2="1442.8" stroke="#000" stroke-width="2"/>
<text x="911.5" y="1450.8" font-size="26" text-anchor="end">20</text>
<line x1="915.7" y1="1583.0" x2="926.7" y2="1583.0" stroke="#000" stroke-width="2"/>
<text x="911.5" y="1591.0" font-size="26" text-anchor="end">10</text>
<line x1="915.7" y1="1723.3" x2="926.7" y2="1723.3" stroke="#000" stroke-width="2"/>
<text x="911.5" y="1731.3" font-size="26" text-anchor="end">0</text>
<line x1="925.7" y1="1723.3" x2="1379.0" y2="1723.3" stroke="#000" stroke-width="2.0"/>
<line x1="946.8" y1="1705.8" x2="946.8" y2="1700.7" stroke="#000" stroke-width="1.9"/>
<line x1="943.3" y1="1700.7" x2="950.3" y2="1700.7" stroke="#000" stroke-width="1.9"/>
<path d="M936.0 1723.3V1705.5Q936.0 1702.5 939.0 1702.5H954.6Q957.6 1702.5 957.6 1705.5V1723.3Z" fill="#000"/>
<line x1="971.0" y1="1696.7" x2="971.0" y2="1684.7" stroke="#000" stroke-width="1.9"/>
<line x1="967.5" y1="1684.7" x2="974.5" y2="1684.7" stroke="#000" stroke-width="1.9"/>
<path d="M960.2 1723.3V1696.4Q960.2 1693.4 963.2 1693.4H978.8Q981.8 1693.4 981.8 1696.4V1723.3Z" fill="#a0a0a4"/>
<line x1="995.2" y1="1696.7" x2="995.2" y2="1692.7" stroke="#000" stroke-width="1.9"/>
<line x1="991.7" y1="1692.7" x2="998.7" y2="1692.7" stroke="#000" stroke-width="1.9"/>
<path d="M984.4 1723.3V1696.4Q984.4 1693.4 987.4 1693.4H1003.0Q1006.0 1693.4 1006.0 1696.4V1723.3Z" fill="#828282"/>
<line x1="1019.4" y1="1681.7" x2="1019.4" y2="1666.6" stroke="#000" stroke-width="1.9"/>
<line x1="1015.9" y1="1666.6" x2="1022.9" y2="1666.6" stroke="#000" stroke-width="1.9"/>
<path d="M1008.6 1723.3V1681.4Q1008.6 1678.4 1011.6 1678.4H1027.2Q1030.2 1678.4 1030.2 1681.4V1723.3Z" fill="#d4d4d4"/>
<line x1="1060.1" y1="1682.7" x2="1060.1" y2="1670.1" stroke="#000" stroke-width="1.9"/>
<line x1="1056.6" y1="1670.1" x2="1063.6" y2="1670.1" stroke="#000" stroke-width="1.9"/>
<path d="M1049.3 1723.3V1682.4Q1049.3 1679.4 1052.3 1679.4H1067.9Q1070.9 1679.4 1070.9 1682.4V1723.3Z" fill="#000"/>
<line x1="1084.3" y1="1674.6" x2="1084.3" y2="1651.0" stroke="#000" stroke-width="1.9"/>
<line x1="1080.8" y1="1651.0" x2="1087.8" y2="1651.0" stroke="#000" stroke-width="1.9"/>
<path d="M1073.5 1723.3V1674.3Q1073.5 1671.3 1076.5 1671.3H1092.1Q1095.1 1671.3 1095.1 1674.3V1723.3Z" fill="#a0a0a4"/>
<line x1="1108.5" y1="1645.5" x2="1108.5" y2="1614.9" stroke="#000" stroke-width="1.9"/>
<line x1="1105.0" y1="1614.9" x2="1112.0" y2="1614.9" stroke="#000" stroke-width="1.9"/>
<path d="M1097.7 1723.3V1645.2Q1097.7 1642.2 1100.7 1642.2H1116.3Q1119.3 1642.2 1119.3 1645.2V1723.3Z" fill="#828282"/>
<line x1="1132.7" y1="1621.9" x2="1132.7" y2="1600.8" stroke="#000" stroke-width="1.9"/>
<line x1="1129.2" y1="1600.8" x2="1136.2" y2="1600.8" stroke="#000" stroke-width="1.9"/>
<path d="M1121.9 1723.3V1621.6Q1121.9 1618.6 1124.9 1618.6H1140.5Q1143.5 1618.6 1143.5 1621.6V1723.3Z" fill="#d4d4d4"/>
<line x1="1173.4" y1="1538.1" x2="1173.4" y2="1488.4" stroke="#000" stroke-width="1.9"/>
<line x1="1169.9" y1="1488.4" x2="1176.9" y2="1488.4" stroke="#000" stroke-width="1.9"/>
<path d="M1162.6 1723.3V1537.8Q1162.6 1534.8 1165.6 1534.8H1181.2Q1184.2 1534.8 1184.2 1537.8V1723.3Z" fill="#000"/>
<line x1="1197.6" y1="1583.8" x2="1197.6" y2="1544.1" stroke="#000" stroke-width="1.9"/>
<line x1="1194.1" y1="1544.1" x2="1201.1" y2="1544.1" stroke="#000" stroke-width="1.9"/>
<path d="M1186.8 1723.3V1583.5Q1186.8 1580.5 1189.8 1580.5H1205.4Q1208.4 1580.5 1208.4 1583.5V1723.3Z" fill="#a0a0a4"/>
<line x1="1221.8" y1="1406.6" x2="1221.8" y2="1332.8" stroke="#000" stroke-width="1.9"/>
<line x1="1218.3" y1="1332.8" x2="1225.3" y2="1332.8" stroke="#000" stroke-width="1.9"/>
<path d="M1211.0 1723.3V1406.3Q1211.0 1403.3 1214.0 1403.3H1229.6Q1232.6 1403.3 1232.6 1406.3V1723.3Z" fill="#828282"/>
<line x1="1246.0" y1="1487.4" x2="1246.0" y2="1461.3" stroke="#000" stroke-width="1.9"/>
<line x1="1242.5" y1="1461.3" x2="1249.5" y2="1461.3" stroke="#000" stroke-width="1.9"/>
<path d="M1235.2 1723.3V1487.1Q1235.2 1484.1 1238.2 1484.1H1253.8Q1256.8 1484.1 1256.8 1487.1V1723.3Z" fill="#d4d4d4"/>
<line x1="1286.7" y1="1469.3" x2="1286.7" y2="1439.7" stroke="#000" stroke-width="1.9"/>
<line x1="1283.2" y1="1439.7" x2="1290.2" y2="1439.7" stroke="#000" stroke-width="1.9"/>
<path d="M1275.9 1723.3V1469.0Q1275.9 1466.0 1278.9 1466.0H1294.5Q1297.5 1466.0 1297.5 1469.0V1723.3Z" fill="#000"/>
<line x1="1310.9" y1="1544.1" x2="1310.9" y2="1501.4" stroke="#000" stroke-width="1.9"/>
<line x1="1307.4" y1="1501.4" x2="1314.4" y2="1501.4" stroke="#000" stroke-width="1.9"/>
<path d="M1300.1 1723.3V1543.8Q1300.1 1540.8 1303.1 1540.8H1318.7Q1321.7 1540.8 1321.7 1543.8V1723.3Z" fill="#a0a0a4"/>
<line x1="1335.1" y1="1305.7" x2="1335.1" y2="1229.9" stroke="#000" stroke-width="1.9"/>
<line x1="1331.6" y1="1229.9" x2="1338.6" y2="1229.9" stroke="#000" stroke-width="1.9"/>
<path d="M1324.3 1723.3V1305.4Q1324.3 1302.4 1327.3 1302.4H1342.9Q1345.9 1302.4 1345.9 1305.4V1723.3Z" fill="#828282"/>
<line x1="1359.3" y1="1446.2" x2="1359.3" y2="1401.0" stroke="#000" stroke-width="1.9"/>
<line x1="1355.8" y1="1401.0" x2="1362.8" y2="1401.0" stroke="#000" stroke-width="1.9"/>
<path d="M1348.5 1723.3V1445.9Q1348.5 1442.9 1351.5 1442.9H1367.1Q1370.1 1442.9 1370.1 1445.9V1723.3Z" fill="#d4d4d4"/>
<line x1="983.5" y1="1723.3" x2="983.5" y2="1732.8" stroke="#000" stroke-width="2"/>
<text x="983.5" y="1763.0" font-size="26" text-anchor="middle">0</text>
<line x1="1096.4" y1="1723.3" x2="1096.4" y2="1732.8" stroke="#000" stroke-width="2"/>
<text x="1096.4" y="1763.0" font-size="26" text-anchor="middle">2</text>
<line x1="1209.9" y1="1723.3" x2="1209.9" y2="1732.8" stroke="#000" stroke-width="2"/>
<text x="1209.9" y="1763.0" font-size="26" text-anchor="middle">6</text>
<line x1="1323.3" y1="1723.3" x2="1323.3" y2="1732.8" stroke="#000" stroke-width="2"/>
<text x="1323.3" y="1763.0" font-size="26" text-anchor="middle">10</text>
<text x="1162.5" y="1796.0" font-size="29.3" text-anchor="middle">Dose [Gy]</text>
<text x="865.0" y="1469.5" font-size="29.4" text-anchor="middle" transform="rotate(-90 865.0 1469.5)">Cells in sub-G1 phase [%]</text>
<rect x="945.3" y="1256.0" width="47.7" height="18.0" fill="#000" rx="4"/>
<text x="1012.0" y="1274.4" font-size="22.5" letter-spacing="0.85">shScr</text>
<rect x="945.3" y="1289.0" width="47.7" height="18.0" fill="#a0a0a4" rx="4"/>
<text x="1012.0" y="1306.7" font-size="22.5" letter-spacing="0.85">shSTX18 K6</text>
<rect x="945.3" y="1323.3" width="47.7" height="18.0" fill="#828282" rx="4"/>
<text x="1012.0" y="1340.5" font-size="22.5" letter-spacing="0.85">shSTX18 K9</text>
<rect x="945.3" y="1358.4" width="47.7" height="18.0" fill="#d4d4d4" rx="4"/>
<text x="1012.0" y="1376.7" font-size="22.5" letter-spacing="0.85">shSTX18 K10</text>
<path d="M1059.8 1650.5V1575.2H1133.6V1584.3" fill="none" stroke="#000" stroke-width="1.8" stroke-linejoin="miter"/>
<text x="1096.0" y="1572.6" font-size="30" text-anchor="middle">*</text>
<path d="M1173.7 1465.3V1298.6H1222V1308" fill="none" stroke="#000" stroke-width="1.8" stroke-linejoin="miter"/>
<text x="1198.1" y="1300.5" font-size="30.5" text-anchor="middle">****</text>
<path d="M1286.2 1413.6V1201.2H1334.9V1211.3" fill="none" stroke="#000" stroke-width="1.8" stroke-linejoin="miter"/>
<text x="1311.3" y="1207.9" font-size="30.5" text-anchor="middle">****</text>
<line x1="156.6" y1="1827.5" x2="156.6" y2="2428.6" stroke="#000" stroke-width="2.0"/>
<line x1="148.6" y1="2427.6" x2="788.5" y2="2427.6" stroke="#000" stroke-width="2.0"/>
<line x1="146.6" y1="1853.8" x2="156.6" y2="1853.8" stroke="#000" stroke-width="2"/>
<text x="138.4" y="1862.8" font-size="25" text-anchor="end">1</text>
<line x1="146.6" y1="1997.2" x2="156.6" y2="1997.2" stroke="#000" stroke-width="2"/>
<text x="138.4" y="2006.2" font-size="25" text-anchor="end">0.1</text>
<line x1="146.6" y1="2140.7" x2="156.6" y2="2140.7" stroke="#000" stroke-width="2"/>
<text x="138.4" y="2149.7" font-size="25" text-anchor="end">0.01</text>
<line x1="146.6" y1="2284.2" x2="156.6" y2="2284.2" stroke="#000" stroke-width="2"/>
<text x="138.4" y="2293.2" font-size="25" text-anchor="end">0.001</text>
<line x1="146.6" y1="2427.6" x2="156.6" y2="2427.6" stroke="#000" stroke-width="2"/>
<text x="138.4" y="2436.6" font-size="25" text-anchor="end">0.0001</text>
<line x1="151.0" y1="1954.1" x2="156.6" y2="1954.1" stroke="#000" stroke-width="1.8"/>
<line x1="151.0" y1="1928.8" x2="156.6" y2="1928.8" stroke="#000" stroke-width="1.8"/>
<line x1="151.0" y1="1910.9" x2="156.6" y2="1910.9" stroke="#000" stroke-width="1.8"/>
<line x1="151.0" y1="1897.0" x2="156.6" y2="1897.0" stroke="#000" stroke-width="1.8"/>
<line x1="151.0" y1="1885.6" x2="156.6" y2="1885.6" stroke="#000" stroke-width="1.8"/>
<line x1="151.0" y1="1876.0" x2="156.6" y2="1876.0" stroke="#000" stroke-width="1.8"/>
<line x1="151.0" y1="1867.7" x2="156.6" y2="1867.7" stroke="#000" stroke-width="1.8"/>
<line x1="151.0" y1="1860.4" x2="156.6" y2="1860.4" stroke="#000" stroke-width="1.8"/>
<line x1="151.0" y1="2097.5" x2="156.6" y2="2097.5" stroke="#000" stroke-width="1.8"/>
<line x1="151.0" y1="2072.3" x2="156.6" y2="2072.3" stroke="#000" stroke-width="1.8"/>
<line x1="151.0" y1="2054.3" x2="156.6" y2="2054.3" stroke="#000" stroke-width="1.8"/>
<line x1="151.0" y1="2040.4" x2="156.6" y2="2040.4" stroke="#000" stroke-width="1.8"/>
<line x1="151.0" y1="2029.1" x2="156.6" y2="2029.1" stroke="#000" stroke-width="1.8"/>
<line x1="151.0" y1="2019.5" x2="156.6" y2="2019.5" stroke="#000" stroke-width="1.8"/>
<line x1="151.0" y1="2011.2" x2="156.6" y2="2011.2" stroke="#000" stroke-width="1.8"/>
<line x1="151.0" y1="2003.8" x2="156.6" y2="2003.8" stroke="#000" stroke-width="1.8"/>
<line x1="151.0" y1="2241.0" x2="156.6" y2="2241.0" stroke="#000" stroke-width="1.8"/>
<line x1="151.0" y1="2215.7" x2="156.6" y2="2215.7" stroke="#000" stroke-width="1.8"/>
<line x1="151.0" y1="2197.8" x2="156.6" y2="2197.8" stroke="#000" stroke-width="1.8"/>
<line x1="151.0" y1="2183.9" x2="156.6" y2="2183.9" stroke="#000" stroke-width="1.8"/>
<line x1="151.0" y1="2172.5" x2="156.6" y2="2172.5" stroke="#000" stroke-width="1.8"/>
<line x1="151.0" y1="2162.9" x2="156.6" y2="2162.9" stroke="#000" stroke-width="1.8"/>
<line x1="151.0" y1="2154.6" x2="156.6" y2="2154.6" stroke="#000" stroke-width="1.8"/>
<line x1="151.0" y1="2147.3" x2="156.6" y2="2147.3" stroke="#000" stroke-width="1.8"/>
<line x1="151.0" y1="2384.4" x2="156.6" y2="2384.4" stroke="#000" stroke-width="1.8"/>
<line x1="151.0" y1="2359.2" x2="156.6" y2="2359.2" stroke="#000" stroke-width="1.8"/>
<line x1="151.0" y1="2341.2" x2="156.6" y2="2341.2" stroke="#000" stroke-width="1.8"/>
<line x1="151.0" y1="2327.3" x2="156.6" y2="2327.3" stroke="#000" stroke-width="1.8"/>
<line x1="151.0" y1="2316.0" x2="156.6" y2="2316.0" stroke="#000" stroke-width="1.8"/>
<line x1="151.0" y1="2306.4" x2="156.6" y2="2306.4" stroke="#000" stroke-width="1.8"/>
<line x1="151.0" y1="2298.1" x2="156.6" y2="2298.1" stroke="#000" stroke-width="1.8"/>
<line x1="151.0" y1="2290.7" x2="156.6" y2="2290.7" stroke="#000" stroke-width="1.8"/>
<line x1="235.0" y1="2427.6" x2="235.0" y2="2437.6" stroke="#000" stroke-width="2"/>
<text x="235.0" y="2459.6" font-size="25" text-anchor="middle">0</text>
<line x1="392.6" y1="2427.6" x2="392.6" y2="2437.6" stroke="#000" stroke-width="2"/>
<text x="392.6" y="2459.6" font-size="25" text-anchor="middle">2</text>
<line x1="550.3" y1="2427.6" x2="550.3" y2="2437.6" stroke="#000" stroke-width="2"/>
<text x="550.3" y="2459.6" font-size="25" text-anchor="middle">6</text>
<line x1="707.9" y1="2427.6" x2="707.9" y2="2437.6" stroke="#000" stroke-width="2"/>
<text x="707.9" y="2459.6" font-size="25" text-anchor="middle">10</text>
<text x="380.3" y="2490.3" font-size="29.5" text-anchor="middle">Dose [Gy]</text>
<text x="77.3" y="2112.5" font-size="29.4" text-anchor="middle" transform="rotate(-90 77.3 2112.5)">Surviving fraction</text>
<path d="M235.0 1854.3L392.6 1902.0L550.3 2079.7L707.9 2215.7" fill="none" stroke="#d4d4d4" stroke-width="3.1" stroke-linejoin="round" stroke-linecap="round"/>
<line x1="392.6" y1="1902.0" x2="392.6" y2="1897.0" stroke="#d4d4d4" stroke-width="1.8"/>
<line x1="386.6" y1="1897.0" x2="398.6" y2="1897.0" stroke="#d4d4d4" stroke-width="1.8"/>
<line x1="550.3" y1="2079.7" x2="550.3" y2="2072.0" stroke="#d4d4d4" stroke-width="1.8"/>
<line x1="544.3" y1="2072.0" x2="556.3" y2="2072.0" stroke="#d4d4d4" stroke-width="1.8"/>
<line x1="707.9" y1="2215.7" x2="707.9" y2="2190.0" stroke="#d4d4d4" stroke-width="1.8"/>
<line x1="701.9" y1="2190.0" x2="713.9" y2="2190.0" stroke="#d4d4d4" stroke-width="1.8"/>
<path d="M235.0 1862.1L241.8 1848.9H228.2Z" fill="#d4d4d4"/>
<path d="M392.6 1909.8L399.4 1896.6H385.8Z" fill="#d4d4d4"/>
<path d="M550.3 2087.5L557.1 2074.3H543.5Z" fill="#d4d4d4"/>
<path d="M707.9 2223.5L714.7 2210.3H701.1Z" fill="#d4d4d4"/>
<path d="M235.0 1854.3L392.6 1934.6L550.3 2148.0L707.9 2324.7" fill="none" stroke="#636363" stroke-width="3.1" stroke-linejoin="round" stroke-linecap="round"/>
<line x1="550.3" y1="2148.0" x2="550.3" y2="2125.7" stroke="#636363" stroke-width="1.8"/>
<line x1="544.3" y1="2125.7" x2="556.3" y2="2125.7" stroke="#636363" stroke-width="1.8"/>
<line x1="707.9" y1="2324.7" x2="707.9" y2="2309.3" stroke="#636363" stroke-width="1.8"/>
<line x1="701.9" y1="2309.3" x2="713.9" y2="2309.3" stroke="#636363" stroke-width="1.8"/>
<path d="M235.0 1846.5L241.8 1859.7H228.2Z" fill="#636363"/>
<path d="M392.6 1926.8L399.4 1940.0H385.8Z" fill="#636363"/>
<path d="M550.3 2140.2L557.1 2153.4H543.5Z" fill="#636363"/>
<path d="M707.9 2316.9L714.7 2330.1H701.1Z" fill="#636363"/>
<path d="M235.0 1854.3L392.6 1915.5L550.3 2126.4L707.9 2305.0" fill="none" stroke="#a0a0a4" stroke-width="3.1" stroke-linejoin="round" stroke-linecap="round"/>
<line x1="392.6" y1="1906.0" x2="392.6" y2="1924.0" stroke="#a0a0a4" stroke-width="1.8"/>
<line x1="386.6" y1="1906.0" x2="398.6" y2="1906.0" stroke="#a0a0a4" stroke-width="1.8"/>
<line x1="386.6" y1="1924.0" x2="398.6" y2="1924.0" stroke="#a0a0a4" stroke-width="1.8"/>
<line x1="550.3" y1="2126.4" x2="550.3" y2="2107.3" stroke="#a0a0a4" stroke-width="1.8"/>
<line x1="544.3" y1="2107.3" x2="556.3" y2="2107.3" stroke="#a0a0a4" stroke-width="1.8"/>
<line x1="707.9" y1="2305.0" x2="707.9" y2="2289.2" stroke="#a0a0a4" stroke-width="1.8"/>
<line x1="701.9" y1="2289.2" x2="713.9" y2="2289.2" stroke="#a0a0a4" stroke-width="1.8"/>
<rect x="228.5" y="1847.8" width="13.0" height="13.0" fill="#a0a0a4"/>
<rect x="386.1" y="1909.0" width="13.0" height="13.0" fill="#a0a0a4"/>
<rect x="543.8" y="2119.9" width="13.0" height="13.0" fill="#a0a0a4"/>
<rect x="701.4" y="2298.5" width="13.0" height="13.0" fill="#a0a0a4"/>
<path d="M235.0 1854.3L392.6 1896.0L550.3 2016.0L707.9 2183.0" fill="none" stroke="#000" stroke-width="3.1" stroke-linejoin="round" stroke-linecap="round"/>
<line x1="550.3" y1="2016.0" x2="550.3" y2="2006.0" stroke="#000" stroke-width="1.8"/>
<line x1="544.3" y1="2006.0" x2="556.3" y2="2006.0" stroke="#000" stroke-width="1.8"/>
<line x1="707.9" y1="2183.0" x2="707.9" y2="2158.0" stroke="#000" stroke-width="1.8"/>
<line x1="701.9" y1="2158.0" x2="713.9" y2="2158.0" stroke="#000" stroke-width="1.8"/>
<circle cx="235.0" cy="1854.3" r="6.3" fill="#000"/>
<circle cx="392.6" cy="1896.0" r="6.3" fill="#000"/>
<circle cx="550.3" cy="2016.0" r="6.3" fill="#000"/>
<circle cx="707.9" cy="2183.0" r="6.3" fill="#000"/>
<line x1="178.2" y1="2054.6" x2="215.9" y2="2054.6" stroke="#000" stroke-width="3.1"/>
<circle cx="197.1" cy="2054.6" r="6.3" fill="#000"/>
<text x="237.0" y="2063.0" font-size="24" letter-spacing="1.2">shScr</text>
<line x1="178.2" y1="2090.2" x2="215.9" y2="2090.2" stroke="#a0a0a4" stroke-width="3.1"/>
<rect x="190.6" y="2083.7" width="13.0" height="13.0" fill="#a0a0a4"/>
<text x="237.0" y="2098.5" font-size="24" letter-spacing="1.2">shSTX18 K1</text>
<line x1="178.2" y1="2128.9" x2="215.9" y2="2128.9" stroke="#636363" stroke-width="3.1"/>
<path d="M197.1 2122.3L203.9 2135.5H190.2Z" fill="#636363"/>
<text x="237.0" y="2136.5" font-size="24" letter-spacing="1.2">shSTX18 K2</text>
<line x1="178.2" y1="2167.0" x2="215.9" y2="2167.0" stroke="#d4d4d4" stroke-width="3.1"/>
<path d="M197.1 2173.6L203.9 2160.4H190.2Z" fill="#d4d4d4"/>
<text x="237.0" y="2175.5" font-size="24" letter-spacing="1.2">shSTX18 K3</text>
<line x1="176.7" y1="2276.0" x2="176.7" y2="2413.3" stroke="#d0d0d0" stroke-width="1.7"/>
<line x1="239.4" y1="2276.0" x2="239.4" y2="2413.3" stroke="#d0d0d0" stroke-width="1.7"/>
<line x1="300.2" y1="2276.0" x2="300.2" y2="2413.3" stroke="#d0d0d0" stroke-width="1.7"/>
<line x1="360.8" y1="2276.0" x2="360.8" y2="2413.3" stroke="#d0d0d0" stroke-width="1.7"/>
<line x1="422.0" y1="2276.0" x2="422.0" y2="2413.3" stroke="#d0d0d0" stroke-width="1.7"/>
<line x1="176.7" y1="2276.0" x2="422.0" y2="2276.0" stroke="#d0d0d0" stroke-width="1.7"/>
<line x1="176.7" y1="2309.6" x2="422.0" y2="2309.6" stroke="#d0d0d0" stroke-width="1.7"/>
<line x1="176.7" y1="2343.8" x2="422.0" y2="2343.8" stroke="#d0d0d0" stroke-width="1.7"/>
<line x1="176.7" y1="2378.9" x2="422.0" y2="2378.9" stroke="#d0d0d0" stroke-width="1.7"/>
<line x1="176.7" y1="2413.3" x2="422.0" y2="2413.3" stroke="#d0d0d0" stroke-width="1.7"/>
<text x="272.8" y="2302.1" font-size="24" text-anchor="middle" letter-spacing="1.5">K1</text>
<text x="333.5" y="2302.1" font-size="24" text-anchor="middle" letter-spacing="1.5">K2</text>
<text x="394.4" y="2302.1" font-size="24" text-anchor="middle" letter-spacing="1.5">K3</text>
<text x="239.9" y="2336.3" font-size="24" text-anchor="end" letter-spacing="0.6">2 Gy</text>
<text x="271.4" y="2335.4" font-size="24" text-anchor="middle" letter-spacing="3.1">****</text>
<text x="332.1" y="2335.4" font-size="24" text-anchor="middle" letter-spacing="3.1">****</text>
<text x="392.9" y="2335.4" font-size="24" text-anchor="middle" letter-spacing="3.1">**</text>
<text x="239.9" y="2371.4" font-size="24" text-anchor="end" letter-spacing="0.6">6 Gy</text>
<text x="271.4" y="2370.5" font-size="24" text-anchor="middle" letter-spacing="3.1">**</text>
<text x="332.1" y="2370.5" font-size="24" text-anchor="middle" letter-spacing="3.1">**</text>
<text x="392.9" y="2370.5" font-size="24" text-anchor="middle" letter-spacing="3.1">*</text>
<text x="244.9" y="2405.8" font-size="24" text-anchor="end" letter-spacing="0.25">10 Gy</text>
<text x="272.3" y="2405.8" font-size="24" text-anchor="middle" letter-spacing="1.0">ns</text>
<text x="333.0" y="2405.8" font-size="24" text-anchor="middle" letter-spacing="1.0">ns</text>
<text x="393.9" y="2405.8" font-size="24" text-anchor="middle" letter-spacing="1.0">ns</text>
<line x1="920.1" y1="1818.7" x2="920.1" y2="2428.6" stroke="#000" stroke-width="2.0"/>
<line x1="910.7" y1="2427.6" x2="1489.0" y2="2427.6" stroke="#000" stroke-width="2.0"/>
<line x1="910.1" y1="1845.3" x2="920.1" y2="1845.3" stroke="#000" stroke-width="2"/>
<text x="902.8" y="1852.9" font-size="23.3" text-anchor="end">1</text>
<line x1="910.1" y1="1990.9" x2="920.1" y2="1990.9" stroke="#000" stroke-width="2"/>
<text x="902.8" y="1998.5" font-size="23.3" text-anchor="end">0.1</text>
<line x1="910.1" y1="2136.4" x2="920.1" y2="2136.4" stroke="#000" stroke-width="2"/>
<text x="902.8" y="2144.0" font-size="23.3" text-anchor="end">0.01</text>
<line x1="910.1" y1="2282.0" x2="920.1" y2="2282.0" stroke="#000" stroke-width="2"/>
<text x="902.8" y="2289.6" font-size="23.3" text-anchor="end">0.001</text>
<line x1="910.1" y1="2427.6" x2="920.1" y2="2427.6" stroke="#000" stroke-width="2"/>
<text x="902.8" y="2435.2" font-size="23.3" text-anchor="end">0.0001</text>
<line x1="914.5" y1="1947.1" x2="920.1" y2="1947.1" stroke="#000" stroke-width="1.8"/>
<line x1="914.5" y1="1921.4" x2="920.1" y2="1921.4" stroke="#000" stroke-width="1.8"/>
<line x1="914.5" y1="1903.2" x2="920.1" y2="1903.2" stroke="#000" stroke-width="1.8"/>
<line x1="914.5" y1="1889.1" x2="920.1" y2="1889.1" stroke="#000" stroke-width="1.8"/>
<line x1="914.5" y1="1877.6" x2="920.1" y2="1877.6" stroke="#000" stroke-width="1.8"/>
<line x1="914.5" y1="1867.8" x2="920.1" y2="1867.8" stroke="#000" stroke-width="1.8"/>
<line x1="914.5" y1="1859.4" x2="920.1" y2="1859.4" stroke="#000" stroke-width="1.8"/>
<line x1="914.5" y1="1852.0" x2="920.1" y2="1852.0" stroke="#000" stroke-width="1.8"/>
<line x1="914.5" y1="2092.6" x2="920.1" y2="2092.6" stroke="#000" stroke-width="1.8"/>
<line x1="914.5" y1="2067.0" x2="920.1" y2="2067.0" stroke="#000" stroke-width="1.8"/>
<line x1="914.5" y1="2048.8" x2="920.1" y2="2048.8" stroke="#000" stroke-width="1.8"/>
<line x1="914.5" y1="2034.7" x2="920.1" y2="2034.7" stroke="#000" stroke-width="1.8"/>
<line x1="914.5" y1="2023.2" x2="920.1" y2="2023.2" stroke="#000" stroke-width="1.8"/>
<line x1="914.5" y1="2013.4" x2="920.1" y2="2013.4" stroke="#000" stroke-width="1.8"/>
<line x1="914.5" y1="2005.0" x2="920.1" y2="2005.0" stroke="#000" stroke-width="1.8"/>
<line x1="914.5" y1="1997.5" x2="920.1" y2="1997.5" stroke="#000" stroke-width="1.8"/>
<line x1="914.5" y1="2238.2" x2="920.1" y2="2238.2" stroke="#000" stroke-width="1.8"/>
<line x1="914.5" y1="2212.6" x2="920.1" y2="2212.6" stroke="#000" stroke-width="1.8"/>
<line x1="914.5" y1="2194.4" x2="920.1" y2="2194.4" stroke="#000" stroke-width="1.8"/>
<line x1="914.5" y1="2180.3" x2="920.1" y2="2180.3" stroke="#000" stroke-width="1.8"/>
<line x1="914.5" y1="2168.7" x2="920.1" y2="2168.7" stroke="#000" stroke-width="1.8"/>
<line x1="914.5" y1="2159.0" x2="920.1" y2="2159.0" stroke="#000" stroke-width="1.8"/>
<line x1="914.5" y1="2150.6" x2="920.1" y2="2150.6" stroke="#000" stroke-width="1.8"/>
<line x1="914.5" y1="2143.1" x2="920.1" y2="2143.1" stroke="#000" stroke-width="1.8"/>
<line x1="914.5" y1="2383.8" x2="920.1" y2="2383.8" stroke="#000" stroke-width="1.8"/>
<line x1="914.5" y1="2358.1" x2="920.1" y2="2358.1" stroke="#000" stroke-width="1.8"/>
<line x1="914.5" y1="2340.0" x2="920.1" y2="2340.0" stroke="#000" stroke-width="1.8"/>
<line x1="914.5" y1="2325.8" x2="920.1" y2="2325.8" stroke="#000" stroke-width="1.8"/>
<line x1="914.5" y1="2314.3" x2="920.1" y2="2314.3" stroke="#000" stroke-width="1.8"/>
<line x1="914.5" y1="2304.6" x2="920.1" y2="2304.6" stroke="#000" stroke-width="1.8"/>
<line x1="914.5" y1="2296.1" x2="920.1" y2="2296.1" stroke="#000" stroke-width="1.8"/>
<line x1="914.5" y1="2288.7" x2="920.1" y2="2288.7" stroke="#000" stroke-width="1.8"/>
<line x1="1015.0" y1="2427.6" x2="1015.0" y2="2437.6" stroke="#000" stroke-width="2"/>
<text x="1015.0" y="2459.6" font-size="25" text-anchor="middle">0</text>
<line x1="1203.8" y1="2427.6" x2="1203.8" y2="2437.6" stroke="#000" stroke-width="2"/>
<text x="1203.8" y="2459.6" font-size="25" text-anchor="middle">2</text>
<line x1="1393.0" y1="2427.6" x2="1393.0" y2="2437.6" stroke="#000" stroke-width="2"/>
<text x="1393.0" y="2459.6" font-size="25" text-anchor="middle">6</text>
<text x="1148.0" y="2490.3" font-size="29.5" text-anchor="middle">Dose [Gy]</text>
<text x="854.5" y="2114.0" font-size="29.4" text-anchor="middle" transform="rotate(-90 854.5 2114.0)">Surviving fraction</text>
<path d="M1015.0 1845.3L1203.8 1930.6L1393.0 2209.2" fill="none" stroke="#d4d4d4" stroke-width="3.6" stroke-linejoin="round" stroke-linecap="round"/>
<line x1="1393.0" y1="2176.0" x2="1393.0" y2="2292.0" stroke="#d4d4d4" stroke-width="1.8"/>
<line x1="1386.0" y1="2176.0" x2="1400.0" y2="2176.0" stroke="#d4d4d4" stroke-width="1.8"/>
<line x1="1386.0" y1="2292.0" x2="1400.0" y2="2292.0" stroke="#d4d4d4" stroke-width="1.8"/>
<path d="M1015.0 1854.1L1022.7 1839.2H1007.3Z" fill="#d4d4d4"/>
<path d="M1203.8 1939.4L1211.5 1924.5H1196.1Z" fill="#d4d4d4"/>
<path d="M1393.0 2218.0L1400.7 2203.1H1385.3Z" fill="#d4d4d4"/>
<path d="M1015.0 1845.3L1203.8 1925.6L1393.0 2219.3" fill="none" stroke="#636363" stroke-width="3.6" stroke-linejoin="round" stroke-linecap="round"/>
<line x1="1393.0" y1="2196.0" x2="1393.0" y2="2254.0" stroke="#636363" stroke-width="1.8"/>
<line x1="1386.0" y1="2196.0" x2="1400.0" y2="2196.0" stroke="#636363" stroke-width="1.8"/>
<line x1="1386.0" y1="2254.0" x2="1400.0" y2="2254.0" stroke="#636363" stroke-width="1.8"/>
<path d="M1015.0 1836.5L1022.7 1851.4H1007.3Z" fill="#636363"/>
<path d="M1203.8 1916.8L1211.5 1931.7H1196.1Z" fill="#636363"/>
<path d="M1393.0 2210.5L1400.7 2225.4H1385.3Z" fill="#636363"/>
<path d="M1015.0 1845.3L1203.8 1933.0L1393.0 2240.3" fill="none" stroke="#a0a0a4" stroke-width="3.6" stroke-linejoin="round" stroke-linecap="round"/>
<line x1="1203.8" y1="1922.0" x2="1203.8" y2="1950.0" stroke="#a0a0a4" stroke-width="1.8"/>
<line x1="1196.8" y1="1922.0" x2="1210.8" y2="1922.0" stroke="#a0a0a4" stroke-width="1.8"/>
<line x1="1196.8" y1="1950.0" x2="1210.8" y2="1950.0" stroke="#a0a0a4" stroke-width="1.8"/>
<line x1="1393.0" y1="2236.0" x2="1393.0" y2="2296.0" stroke="#a0a0a4" stroke-width="1.8"/>
<line x1="1386.0" y1="2236.0" x2="1400.0" y2="2236.0" stroke="#a0a0a4" stroke-width="1.8"/>
<line x1="1386.0" y1="2296.0" x2="1400.0" y2="2296.0" stroke="#a0a0a4" stroke-width="1.8"/>
<rect x="1007.7" y="1838.0" width="14.7" height="14.7" fill="#a0a0a4"/>
<rect x="1196.5" y="1925.7" width="14.7" height="14.7" fill="#a0a0a4"/>
<rect x="1385.7" y="2233.0" width="14.7" height="14.7" fill="#a0a0a4"/>
<path d="M1015.0 1845.3L1203.8 1915.0L1393.0 2155.0" fill="none" stroke="#000" stroke-width="3.6" stroke-linejoin="round" stroke-linecap="round"/>
<line x1="1393.0" y1="2155.0" x2="1393.0" y2="2134.0" stroke="#000" stroke-width="1.8"/>
<line x1="1387.0" y1="2134.0" x2="1399.0" y2="2134.0" stroke="#000" stroke-width="1.8"/>
<circle cx="1015.0" cy="1845.3" r="7.1" fill="#000"/>
<circle cx="1203.8" cy="1915.0" r="7.1" fill="#000"/>
<circle cx="1393.0" cy="2155.0" r="7.1" fill="#000"/>
<line x1="943.3" y1="2061.2" x2="980.6" y2="2061.2" stroke="#000" stroke-width="3.6"/>
<circle cx="962.0" cy="2061.2" r="7.1" fill="#000"/>
<text x="1003.0" y="2070.0" font-size="24" letter-spacing="1.2">shScr</text>
<line x1="943.3" y1="2091.8" x2="980.6" y2="2091.8" stroke="#a0a0a4" stroke-width="3.6"/>
<rect x="954.6" y="2084.5" width="14.7" height="14.7" fill="#a0a0a4"/>
<text x="1003.0" y="2101.4" font-size="24" letter-spacing="1.2">shSTX18 K6</text>
<line x1="943.3" y1="2125.9" x2="980.6" y2="2125.9" stroke="#636363" stroke-width="3.6"/>
<path d="M962.0 2118.3L969.6 2133.2H954.3Z" fill="#636363"/>
<text x="1003.0" y="2134.9" font-size="24" letter-spacing="1.2">shSTX18 K9</text>
<line x1="943.3" y1="2160.4" x2="980.6" y2="2160.4" stroke="#d4d4d4" stroke-width="3.6"/>
<path d="M962.0 2168.0L969.6 2153.1H954.3Z" fill="#d4d4d4"/>
<text x="1003.0" y="2169.1" font-size="24" letter-spacing="1.2">shSTX18 K10</text>
<line x1="942.3" y1="2295.6" x2="942.3" y2="2395.5" stroke="#d0d0d0" stroke-width="1.7"/>
<line x1="1002.5" y1="2295.6" x2="1002.5" y2="2395.5" stroke="#d0d0d0" stroke-width="1.7"/>
<line x1="1062.3" y1="2295.6" x2="1062.3" y2="2395.5" stroke="#d0d0d0" stroke-width="1.7"/>
<line x1="1122.0" y1="2295.6" x2="1122.0" y2="2395.5" stroke="#d0d0d0" stroke-width="1.7"/>
<line x1="1182.2" y1="2295.6" x2="1182.2" y2="2395.5" stroke="#d0d0d0" stroke-width="1.7"/>
<line x1="942.3" y1="2295.6" x2="1182.2" y2="2295.6" stroke="#d0d0d0" stroke-width="1.7"/>
<line x1="942.3" y1="2328.7" x2="1182.2" y2="2328.7" stroke="#d0d0d0" stroke-width="1.7"/>
<line x1="942.3" y1="2362.3" x2="1182.2" y2="2362.3" stroke="#d0d0d0" stroke-width="1.7"/>
<line x1="942.3" y1="2395.5" x2="1182.2" y2="2395.5" stroke="#d0d0d0" stroke-width="1.7"/>
<text x="1035.4" y="2321.2" font-size="24" text-anchor="middle" letter-spacing="1.5">K6</text>
<text x="1095.2" y="2321.2" font-size="24" text-anchor="middle" letter-spacing="1.5">K9</text>
<text x="1155.1" y="2321.2" font-size="24" text-anchor="middle" letter-spacing="1.5">K10</text>
<text x="1003.0" y="2354.8" font-size="24" text-anchor="end" letter-spacing="0.6">2 Gy</text>
<text x="1032.9" y="2353.9" font-size="24" text-anchor="middle" letter-spacing="0.9">***</text>
<text x="1092.6" y="2353.9" font-size="24" text-anchor="middle" letter-spacing="0.9">*</text>
<text x="1152.5" y="2353.9" font-size="24" text-anchor="middle" letter-spacing="0.9">***</text>
<text x="1003.0" y="2388.0" font-size="24" text-anchor="end" letter-spacing="0.6">6 Gy</text>
<text x="1034.9" y="2388.0" font-size="24" text-anchor="middle" letter-spacing="1.0">ns</text>
<text x="1094.7" y="2388.0" font-size="24" text-anchor="middle" letter-spacing="1.0">ns</text>
<text x="1154.6" y="2388.0" font-size="24" text-anchor="middle" letter-spacing="1.0">ns</text>
</svg>
</body></html>
